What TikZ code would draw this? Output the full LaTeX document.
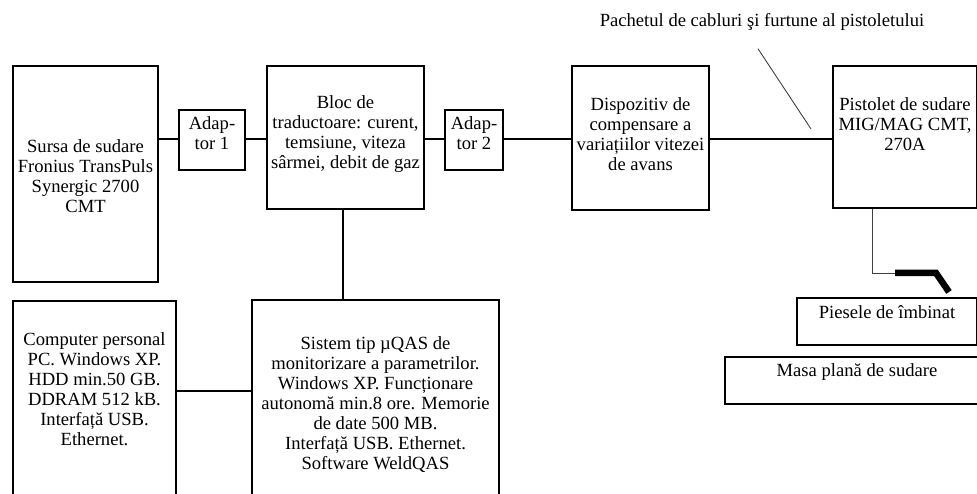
\documentclass[tikz,border=0pt]{standalone}
\usepackage{fontspec}
\setmainfont{Liberation Serif}
\begin{document}
\begin{tikzpicture}[x=1pt,y=-1pt,
  box/.style={draw=black,line width=2.8pt,rectangle,inner sep=0pt,fill=none},
  txt/.style={align=center,inner sep=0pt,font=\fontsize{18.6}{20}\selectfont},
  wire/.style={draw=black,line width=1.1pt},
  thinwire/.style={draw=black!75,line width=0.9pt}]
\useasboundingbox (0,0) rectangle (977,494);
\begin{scope}
\clip (0,0) rectangle (977,494);
% boxes
\node[box,minimum width=145pt,minimum height=216pt] (sursa) at (85.5,174) {};
\node[box,minimum width=66pt,minimum height=60pt] (ad1) at (212,140) {};
\node[box,minimum width=157pt,minimum height=143pt] (bloc) at (345.5,137.5) {};
\node[box,minimum width=58pt,minimum height=60pt] (ad2) at (474,140) {};
\node[box,minimum width=137pt,minimum height=144pt] (disp) at (640.5,138) {};
\node[box,minimum width=144pt,minimum height=142pt] (pist) at (905,137) {};
\node[box,minimum width=180pt,minimum height=47pt] (piese) at (887,321.5) {};
\node[box,minimum width=256pt,minimum height=47pt] (masa) at (853,380.5) {};
\node[box,minimum width=163pt,minimum height=230pt] (comp) at (94.5,416) {};
\node[box,minimum width=247pt,minimum height=230pt] (sist) at (375.5,415) {};
% texts
\node[txt] (tsursa) at (85.5,176) {Sursa de sudare\\Fronius TransPuls\\Synergic 2700\\CMT};
\node[txt] (tad1) at (212,133) {Adap-\\tor 1};
\node[txt] (tbloc) at (345.5,134) {Bloc de\\traductoare: curent,\\temsiune, viteza\\sârmei, debit de gaz};
\node[txt] (tad2) at (474,133) {Adap-\\tor 2};
\node[txt] (tdisp) at (640.5,134) {Dispozitiv de\\compensare a\\variațiilor vitezei\\de avans};
\node[txt] (tpist) at (905,124) {Pistolet de sudare\\MIG/MAG CMT,\\270A};
\node[txt] (tpiese) at (887,312) {Piesele de îmbinat};
\node[txt] (tmasa) at (857,372) {Masa plană de sudare};
\node[txt] (tcomp) at (94.5,389) {Computer personal\\PC. Windows XP.\\HDD min.50 GB.\\DDRAM 512 kB.\\Interfață USB.\\Ethernet.};
\node[txt] (tsist) at (375.5,405) {Sistem tip µQAS de\\monitorizare a parametrilor.\\Windows XP. Funcționare\\autonomă min.8 ore. Memorie\\de date 500 MB.\\Interfață USB. Ethernet.\\Software WeldQAS};
\node[txt] (tpach) at (762,22) {Pachetul de cabluri şi furtune al pistoletului};
% connectors
\coordinate (rowy) at (0,139);
\draw[wire] (sursa.east |- rowy) -- (ad1.west |- rowy);
\draw[wire] (ad1.east |- rowy) -- (bloc.west |- rowy);
\draw[wire] (bloc.east |- rowy) -- (ad2.west |- rowy);
\draw[wire] (ad2.east |- rowy) -- (disp.west |- rowy);
\draw[wire] (disp.east |- rowy) -- (pist.west |- rowy);
\coordinate (downx) at (343,0);
\draw[wire] (bloc.south -| downx) -- (sist.north -| downx);
\coordinate (pcy) at (0,391);
\draw[wire] (comp.east |- pcy) -- (sist.west |- pcy);
% pointer line to cable bundle
\coordinate (ptip) at (811,129);
\draw[thinwire] (tpach.south -| 758,0) ++(0,18) -- (ptip);
% torch
\coordinate (gunx) at (872,0);
\coordinate (g1) at (872,273);
\coordinate (g2) at (895,273);
\coordinate (g3) at (936,273);
\coordinate (g4) at (949,292);
\draw[thinwire] (pist.south -| gunx) -- (g1) -- (g2);
\draw[black,line width=6.5pt,line join=miter] (g2) -- (g3) -- (g4);
\end{scope}
\end{tikzpicture}
\end{document}
